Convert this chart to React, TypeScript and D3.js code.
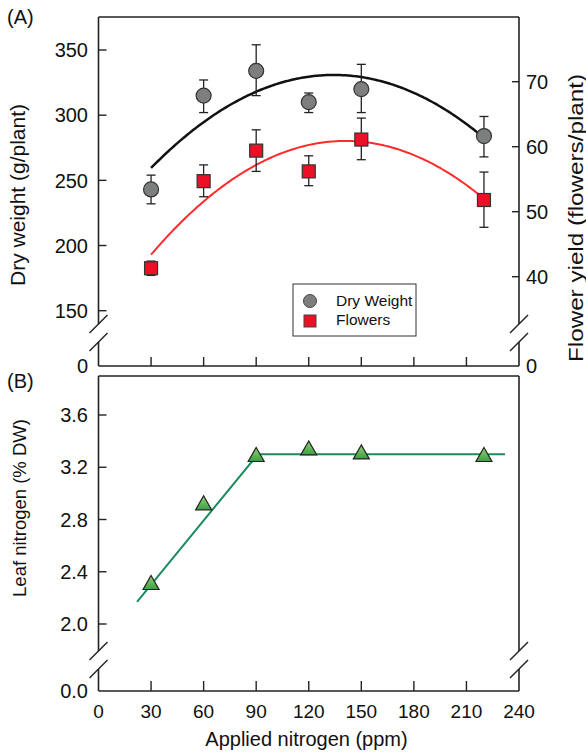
import React from "react";
import * as d3 from "d3";

// ---------- data ----------
const nitrogen = [30, 60, 90, 120, 150, 220];
const dryWeight = [243, 315, 334, 310, 320, 284];
const dryWeightHigh = [254, 327, 354, 317, 339, 299];
const dryWeightLow = [232, 302, 315, 302, 302, 268];
const flowers = [41.3, 54.7, 59.4, 56.2, 61.1, 51.8];
const flowersHigh = [42.4, 57.2, 62.6, 58.6, 64.4, 56.1];
const flowersLow = [40.2, 52.3, 56.2, 54.0, 58.0, 47.6];
const leafN = [2.31, 2.92, 3.29, 3.34, 3.31, 3.29];
// quadratic fits (a + b x + c x^2)
const dryFit = [212.5, 1.763, -0.006565];
const flowerFit = [32.66, 0.4006, -0.0014215];
const fitRange = [30, 220];
// broken-stick fit for leaf nitrogen
const leafLineX = [22, 91, 232];
const leafLineY = [2.17, 3.3, 3.3];

const xTicks = [0, 30, 60, 90, 120, 150, 180, 210, 240];
const innerXTicks = [30, 60, 90, 120, 150, 180, 210];
const dwTicks = [150, 200, 250, 300, 350];
const flTicks = [40, 50, 60, 70];
const leafTicks = [2.0, 2.4, 2.8, 3.2, 3.6];

// ---------- layout ----------
const L = 98.5, R = 519;
const aTop = 17, aBot = 366;
const bTop = 376, bBot = 691;
const FONT = "'Liberation Sans', Arial, Helvetica, sans-serif";

const x = d3.scaleLinear().domain([0, 240]).range([L, R]);
const yDW = d3.scaleLinear().domain([150, 350]).range([310.7, 50]);
const yFL = d3.scaleLinear().domain([40, 70]).range([276.7, 81.7]);
const yLN = d3.scaleLinear().domain([2.0, 3.6]).range([624, 415]);

const poly = (c: number[], v: number) => c[0] + c[1] * v + c[2] * v * v;
const fitXs = d3.range(fitRange[0], fitRange[1] + 0.5, 1);

const Break = ({ cx, cy }: { cx: number; cy: number }) => (
  <line x1={cx - 9} y1={cy + 9} x2={cx + 9} y2={cy - 9} stroke="#222" strokeWidth={1.5} />
);

export default function App() {
  const dwLine = d3
    .line<number>()
    .x((d) => x(d))
    .y((d) => yDW(poly(dryFit, d)))(fitXs);
  const flLine = d3
    .line<number>()
    .x((d) => x(d))
    .y((d) => yFL(poly(flowerFit, d)))(fitXs);
  const lnLine = d3
    .line<number>()
    .x((_, i) => x(leafLineX[i]))
    .y((d) => yLN(d))(leafLineY);

  const tri = (cx: number, cy: number, s = 8) =>
    `M${cx},${cy - s} L${cx + s},${cy + s * 0.75} L${cx - s},${cy + s * 0.75} Z`;

  const brkA = [324, 342];
  const brkB = [651, 669];

  return (
    <svg
      width={586}
      height={756}
      style={{ position: "absolute", left: 0, top: 0, background: "#fff" }}
      fontFamily={FONT}
    >
      <defs>
        <linearGradient id="tg" x1="0" y1="0" x2="0" y2="1">
          <stop offset="0" stopColor="#8fd270" />
          <stop offset="1" stopColor="#3f9e45" />
        </linearGradient>
      </defs>
      {/* ---------- Panel A ---------- */}
      <g stroke="#222" strokeWidth={1.6} fill="none">
        <line x1={L} y1={aTop} x2={R} y2={aTop} />
        <line x1={L} y1={aBot} x2={R} y2={aBot} />
        <line x1={L} y1={aTop} x2={L} y2={brkA[0]} />
        <line x1={L} y1={brkA[1]} x2={L} y2={aBot} />
        <line x1={R} y1={aTop} x2={R} y2={brkA[0]} />
        <line x1={R} y1={brkA[1]} x2={R} y2={aBot} />
      </g>
      {brkA.map((b) => (
        <g key={"ba" + b}>
          <Break cx={L} cy={b} />
          <Break cx={R} cy={b} />
        </g>
      ))}
      {innerXTicks.map((t) => (
        <line key={"axt" + t} x1={x(t)} x2={x(t)} y1={aBot} y2={aBot - 9} stroke="#222" strokeWidth={1.4} />
      ))}
      {dwTicks.map((t) => (
        <g key={"dw" + t}>
          <line x1={L} x2={L + 8} y1={yDW(t)} y2={yDW(t)} stroke="#222" strokeWidth={1.4} />
          <text x={88} y={yDW(t)} dy="0.36em" textAnchor="end" fontSize={20} fill="#111">
            {t}
          </text>
        </g>
      ))}
      <text x={88} y={aBot} dy="0.36em" textAnchor="end" fontSize={20} fill="#111">0</text>
      {flTicks.map((t) => (
        <g key={"fl" + t}>
          <line x1={R} x2={R - 7} y1={yFL(t)} y2={yFL(t)} stroke="#222" strokeWidth={1.4} />
          <text x={526} y={yFL(t)} dy="0.36em" textAnchor="start" fontSize={20} fill="#111">
            {t}
          </text>
        </g>
      ))}
      <text x={526} y={aBot} dy="0.36em" textAnchor="start" fontSize={20} fill="#111">0</text>

      <path d={dwLine || ""} fill="none" stroke="#111" strokeWidth={2.5} />
      <path d={flLine || ""} fill="none" stroke="#ff2b2b" strokeWidth={2} />

      {/* error bars */}
      {nitrogen.map((n, i) => (
        <g key={"eb" + n} stroke="#222" strokeWidth={1.3}>
          <line x1={x(n)} x2={x(n)} y1={yDW(dryWeightHigh[i])} y2={yDW(dryWeightLow[i])} />
          <line x1={x(n) - 4.5} x2={x(n) + 4.5} y1={yDW(dryWeightHigh[i])} y2={yDW(dryWeightHigh[i])} />
          <line x1={x(n) - 4.5} x2={x(n) + 4.5} y1={yDW(dryWeightLow[i])} y2={yDW(dryWeightLow[i])} />
          <line x1={x(n)} x2={x(n)} y1={yFL(flowersHigh[i])} y2={yFL(flowersLow[i])} />
          <line x1={x(n) - 4.5} x2={x(n) + 4.5} y1={yFL(flowersHigh[i])} y2={yFL(flowersHigh[i])} />
          <line x1={x(n) - 4.5} x2={x(n) + 4.5} y1={yFL(flowersLow[i])} y2={yFL(flowersLow[i])} />
        </g>
      ))}
      {nitrogen.map((n, i) => (
        <circle key={"c" + n} cx={x(n)} cy={yDW(dryWeight[i])} r={7.5} fill="#7d7f7e" stroke="#333" strokeWidth={1.2} />
      ))}
      {nitrogen.map((n, i) => (
        <rect
          key={"s" + n}
          x={x(n) - 6.5}
          y={yFL(flowers[i]) - 6.5}
          width={13}
          height={13}
          fill="#ec1026"
          stroke="#333"
          strokeWidth={1.2}
        />
      ))}

      {/* legend */}
      <rect x={293} y={284} width={123} height={52} fill="#fff" stroke="#333" strokeWidth={1} />
      <circle cx={310} cy={301} r={6.5} fill="#7d7f7e" stroke="#444" strokeWidth={1} />
      <rect x={304} y={315} width={12} height={12} fill="#ec1026" stroke="#444" strokeWidth={1} />
      <text x={336} y={305.5} fontSize={15.5} fill="#111">Dry Weight</text>
      <text x={336} y={324.5} fontSize={15.5} fill="#111">Flowers</text>

      <text x={7} y={24} fontSize={20} fill="#111">(A)</text>
      <text transform="translate(25,195) rotate(-90)" textAnchor="middle" fontSize={21} fill="#111">
        Dry weight (g/plant)
      </text>
      <text
        transform="translate(583,218) rotate(-90)"
        textAnchor="middle"
        fontSize={20}
        fill="#111"
        textLength={288}
        lengthAdjust="spacingAndGlyphs"
      >
        Flower yield (flowers/plant)
      </text>

      {/* ---------- Panel B ---------- */}
      <g stroke="#222" strokeWidth={1.6} fill="none">
        <line x1={L} y1={bTop} x2={R} y2={bTop} />
        <line x1={L} y1={bBot} x2={R} y2={bBot} />
        <line x1={L} y1={bTop} x2={L} y2={brkB[0]} />
        <line x1={L} y1={brkB[1]} x2={L} y2={bBot} />
        <line x1={R} y1={bTop} x2={R} y2={brkB[0]} />
        <line x1={R} y1={brkB[1]} x2={R} y2={bBot} />
      </g>
      {brkB.map((b) => (
        <g key={"bb" + b}>
          <Break cx={L} cy={b} />
          <Break cx={R} cy={b} />
        </g>
      ))}
      {innerXTicks.map((t) => (
        <line key={"bxt" + t} x1={x(t)} x2={x(t)} y1={bBot} y2={bBot - 10} stroke="#222" strokeWidth={1.4} />
      ))}
      {xTicks.map((t) => (
        <text key={"xl" + t} x={x(t)} y={718} textAnchor="middle" fontSize={19} fill="#111">
          {t}
        </text>
      ))}
      {leafTicks.map((t) => (
        <g key={"ln" + t}>
          <line x1={L} x2={L + 8} y1={yLN(t)} y2={yLN(t)} stroke="#222" strokeWidth={1.4} />
          <text x={88} y={yLN(t)} dy="0.36em" textAnchor="end" fontSize={20} fill="#111">
            {t.toFixed(1)}
          </text>
        </g>
      ))}
      <text x={88} y={bBot} dy="0.36em" textAnchor="end" fontSize={20} fill="#111">0.0</text>

      <path d={lnLine || ""} fill="none" stroke="#1d8a5e" strokeWidth={2} />
      {nitrogen.map((n, i) => (
        <path key={"t" + n} d={tri(x(n), yLN(leafN[i]))} fill="url(#tg)" stroke="#222" strokeWidth={1.2} />
      ))}

      <text x={7} y={388} fontSize={20} fill="#111">(B)</text>
      <text transform="translate(26,508) rotate(-90)" textAnchor="middle" fontSize={18.5} fill="#111">
        Leaf nitrogen (% DW)
      </text>
      <text x={306.5} y={746} textAnchor="middle" fontSize={20} fill="#111">
        Applied nitrogen (ppm)
      </text>
    </svg>
  );
}
